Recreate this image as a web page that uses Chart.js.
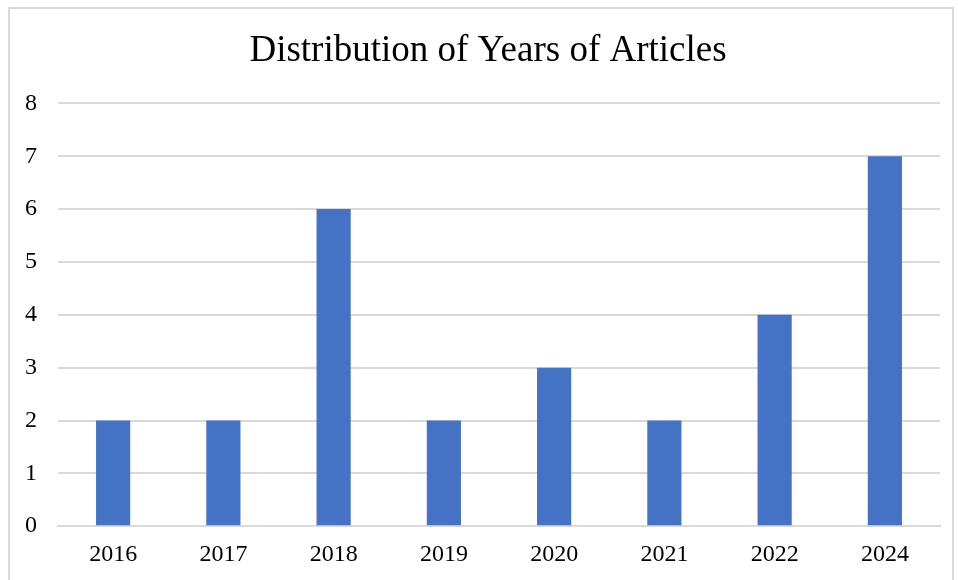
<!DOCTYPE html>
<html>
<head>
<meta charset="utf-8">
<script src="https://cdn.jsdelivr.net/npm/chart.js@4.4.1/dist/chart.umd.min.js"></script>
<style>
    html, body { margin: 0; padding: 0; background: #fff; }
    #frame {
        position: absolute;
        left: 8px; top: 7px;
        width: 946px; height: 580px;
        border-left: 2px solid #d9d9d9;
        border-top: 2px solid #d9d9d9;
        border-right: 2px solid #d9d9d9;
        box-sizing: border-box;
    }
    #box { position: absolute; left: 0; top: 0; right: 0; bottom: 0; }
</style>
</head>
<body>
<div id="frame"><div id="box"><canvas id="yearsChart"></canvas></div></div>
<script>
    const years = ["2016", "2017", "2018", "2019", "2020", "2021", "2022", "2024"];
    const articles = [2, 2, 6, 2, 3, 2, 4, 7];
    const yTicks = [0, 1, 2, 3, 4, 5, 6, 7, 8];

    const serif = "'Times New Roman', 'Liberation Serif', serif";

    // title in the reference sits a little right of the canvas centre
    const nudgeTitle = {
        id: "nudgeTitle",
        afterLayout(chart) {
            if (chart.titleBlock) chart.titleBlock.left += 12;
        }
    };

    new Chart(document.getElementById("yearsChart"), {
        type: "bar",
        data: {
            labels: years,
            datasets: [{
                label: "Articles",
                data: articles,
                backgroundColor: "#4472C4",
                borderWidth: 0,
                categoryPercentage: 1,
                barPercentage: 0.31
            }]
        },
        options: {
            responsive: true,
            maintainAspectRatio: false,
            animation: false,
            layout: { padding: { left: 14, right: 12, top: 8, bottom: 4 } },
            plugins: {
                legend: { display: false },
                tooltip: { enabled: false },
                title: {
                    display: true,
                    text: "Distribution of Years of Articles",
                    color: "#000",
                    font: { family: serif, size: 37, weight: "normal" },
                    padding: { top: 12, bottom: 30 }
                }
            },
            scales: {
                x: {
                    grid: { display: false, drawTicks: false },
                    border: { display: true, color: "#d9d9d9", width: 2 },
                    ticks: {
                        color: "#000",
                        padding: 14,
                        font: { family: serif, size: 24 }
                    }
                },
                y: {
                    min: 0,
                    max: 8,
                    afterBuildTicks: (axis) => {
                        axis.ticks = yTicks.map(v => ({ value: v }));
                    },
                    afterFit: (axis) => { axis.width = 34; },
                    grid: { color: "#d9d9d9", lineWidth: 2, drawTicks: false },
                    border: { display: false },
                    ticks: {
                        color: "#000",
                        padding: 21,
                        font: { family: serif, size: 24 }
                    }
                }
            }
        },
        plugins: [nudgeTitle]
    });
</script>
</body>
</html>
